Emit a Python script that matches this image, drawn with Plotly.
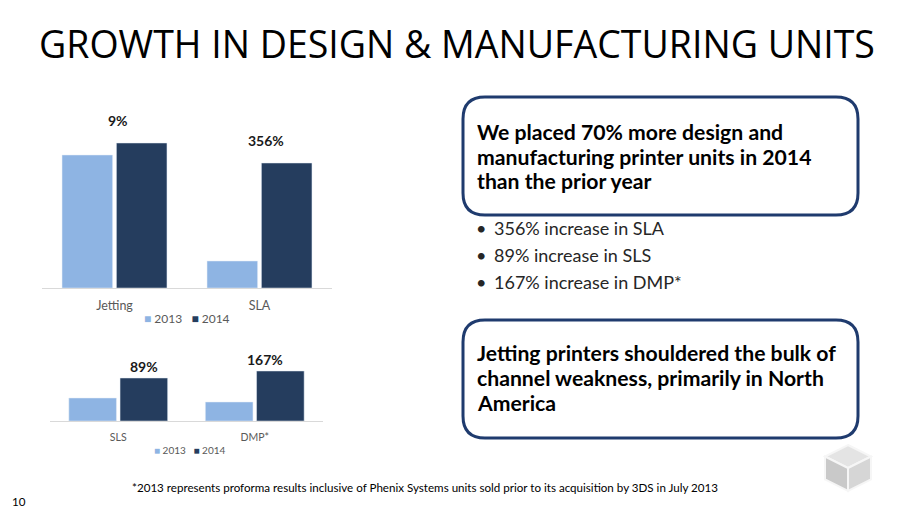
import plotly.graph_objects as go

# chart data (bar heights, arbitrary units)
years = ["2013", "2014"]
top_cats = ["Jetting", "SLA"]
top_2013 = [133, 27]
top_2014 = [145, 125]
top_growth = ["9%", "356%"]

bot_cats = ["SLS", "DMP*"]
bot_2013 = [23, 19]
bot_2014 = [43, 50]
bot_growth = ["89%", "167%"]

title = "GROWTH IN DESIGN & MANUFACTURING UNITS"
box1_lines = ["We placed 70% more design and",
              "manufacturing printer units in 2014",
              "than the prior year"]
bullets = ["356% increase in SLA", "89% increase in SLS", "167% increase in DMP*"]
box2_lines = ["Jetting printers shouldered the bulk of",
              "channel weakness, primarily in North",
              "America"]
footnote = ("*2013 represents proforma results inclusive of Phenix Systems units "
            "sold prior to its acquisition by 3DS in July 2013")
page_no = "10"

# the page body keeps its default 8px margin, so the figure is shrunk by that
OFF = 8
W, H = 911 - OFF, 512 - OFF
FONT = "Lato, sans-serif"
TFONT = "Open Sans, sans-serif"
C13 = "#8eb4e3"
C14 = "#253d5e"
BOX = "#1f3b6e"


def px(x):
    return (x - OFF) / W


def py(y):
    return 1 - (y - OFF) / H


fig = go.Figure()

fig.add_trace(go.Bar(x=top_cats, y=top_2013, name=years[0], marker_color=C13,
                     xaxis="x", yaxis="y", showlegend=False))
fig.add_trace(go.Bar(x=top_cats, y=top_2014, name=years[1], marker_color=C14,
                     xaxis="x", yaxis="y", showlegend=False))
fig.add_trace(go.Bar(x=bot_cats, y=bot_2013, name=years[0], marker_color=C13,
                     xaxis="x2", yaxis="y2", showlegend=False))
fig.add_trace(go.Bar(x=bot_cats, y=bot_2014, name=years[1], marker_color=C14,
                     xaxis="x2", yaxis="y2", showlegend=False))

ann = []
# growth labels above the 2014 bars
for cat, v, lab, dx in zip(top_cats, top_2014, top_growth, [3, 6]):
    ann.append(dict(x=cat, y=v, xref="x", yref="y", text="<b>%s</b>" % lab,
                    showarrow=False, yanchor="bottom", yshift=12, xshift=dx,
                    font=dict(size=14, color="#1a1a1a", family=FONT)))
for cat, v, lab, dx in zip(bot_cats, bot_2014, bot_growth, [26, 10]):
    ann.append(dict(x=cat, y=v, xref="x2", yref="y2", text="<b>%s</b>" % lab,
                    showarrow=False, yanchor="bottom", yshift=1, xshift=dx,
                    font=dict(size=14, color="#1a1a1a", family=FONT)))

# compact legends under each chart
legend_txt = "<span style='color:%s'>■</span> %s   <span style='color:%s'>■</span> %s" % (
    C13, years[0], C14, years[1])
for lx, ly, fs in [(187, 318, 12), (190, 450, 10)]:
    ann.append(dict(x=px(lx), y=py(ly), xref="paper", yref="paper", text=legend_txt,
                    showarrow=False, xanchor="center", yanchor="middle",
                    font=dict(size=fs, color="#595959", family=FONT)))

ann.append(dict(x=px(37), y=py(44), xref="paper", yref="paper", text=title,
                showarrow=False, xanchor="left", yanchor="middle",
                font=dict(size=37.5, color="#000000", family=TFONT)))

for i, line in enumerate(box1_lines):
    ann.append(dict(x=px(475), y=py(132 + 24.5 * i), xref="paper", yref="paper",
                    text="<b>%s</b>" % line, showarrow=False, xanchor="left",
                    yanchor="middle", font=dict(size=21.2, color="#000000", family=FONT)))
for i, line in enumerate(bullets):
    yy = py(228 + 27 * i)
    ann.append(dict(x=px(481), y=yy, xref="paper", yref="paper", text="•",
                    showarrow=False, xanchor="center", yanchor="middle",
                    font=dict(size=18, color="#262626", family=FONT)))
    ann.append(dict(x=px(492), y=yy, xref="paper", yref="paper", text=line,
                    showarrow=False, xanchor="left", yanchor="middle",
                    font=dict(size=18, color="#262626", family=FONT)))
for i, line in enumerate(box2_lines):
    ann.append(dict(x=px(475), y=py(353 + 25 * i), xref="paper", yref="paper",
                    text="<b>%s</b>" % line, showarrow=False, xanchor="left",
                    yanchor="middle", font=dict(size=21.2, color="#000000", family=FONT)))

ann.append(dict(x=px(425), y=py(487), xref="paper", yref="paper", text=footnote,
                showarrow=False, xanchor="center", yanchor="middle",
                font=dict(size=11.6, color="#000000", family=FONT)))
ann.append(dict(x=px(10), y=py(501), xref="paper", yref="paper", text=page_no,
                showarrow=False, xanchor="left", yanchor="middle",
                font=dict(size=11.6, color="#000000", family=FONT)))


def rounded_box(x0, y0, x1, y1, r):
    return ("M %f,%f L %f,%f Q %f,%f %f,%f L %f,%f Q %f,%f %f,%f "
            "L %f,%f Q %f,%f %f,%f L %f,%f Q %f,%f %f,%f Z" % (
                px(x0 + r), py(y0), px(x1 - r), py(y0), px(x1), py(y0), px(x1), py(y0 + r),
                px(x1), py(y1 - r), px(x1), py(y1), px(x1 - r), py(y1),
                px(x0 + r), py(y1), px(x0), py(y1), px(x0), py(y1 - r),
                px(x0), py(y0 + r), px(x0), py(y0), px(x0 + r), py(y0)))


shapes = [
    dict(type="path", xref="paper", yref="paper", path=rounded_box(463, 97, 858, 215, 22),
         line=dict(color=BOX, width=3), fillcolor="rgba(0,0,0,0)"),
    dict(type="path", xref="paper", yref="paper", path=rounded_box(463, 320, 858, 438, 22),
         line=dict(color=BOX, width=3), fillcolor="rgba(0,0,0,0)"),
]

# little grey 3D cube logo
cx, cy, s = 848, 468, 23
top_face = "M %f,%f L %f,%f L %f,%f L %f,%f Z" % (
    px(cx), py(cy - s), px(cx + s), py(cy - s / 2), px(cx), py(cy), px(cx - s), py(cy - s / 2))
left_face = "M %f,%f L %f,%f L %f,%f L %f,%f Z" % (
    px(cx - s), py(cy - s / 2), px(cx), py(cy), px(cx), py(cy + s), px(cx - s), py(cy + s / 2))
right_face = "M %f,%f L %f,%f L %f,%f L %f,%f Z" % (
    px(cx), py(cy), px(cx + s), py(cy - s / 2), px(cx + s), py(cy + s / 2), px(cx), py(cy + s))
for path, col in [(top_face, "#e4e4e4"), (left_face, "#c9c9c9"), (right_face, "#d6d6d6")]:
    shapes.append(dict(type="path", xref="paper", yref="paper", path=path,
                       fillcolor=col, line=dict(color="#f6f6f6", width=2)))

axis_common = dict(showgrid=False, zeroline=False, showline=True, linecolor="#d9d9d9",
                   linewidth=1, ticks="", fixedrange=True)
yaxis_common = dict(visible=False, showgrid=False, zeroline=False, fixedrange=True)

fig.update_layout(
    width=W, height=H,
    margin=dict(l=0, r=0, t=0, b=0),
    paper_bgcolor="white", plot_bgcolor="white",
    barmode="group", bargap=0.25, bargroupgap=0.07,
    xaxis=dict(domain=[px(42), px(332)], anchor="y", ticklabelstandoff=6,
               tickfont=dict(size=12.5, color="#595959", family=FONT), **axis_common),
    yaxis=dict(domain=[py(288), py(100)], range=[0, 188], anchor="x", **yaxis_common),
    xaxis2=dict(domain=[px(50), px(323)], anchor="y2", ticklabelstandoff=6,
                tickfont=dict(size=10.5, color="#595959", family=FONT), **axis_common),
    yaxis2=dict(domain=[py(421), py(350)], range=[0, 71], anchor="x2", **yaxis_common),
    annotations=ann,
    shapes=shapes,
)

fig.write_html("out.html")
